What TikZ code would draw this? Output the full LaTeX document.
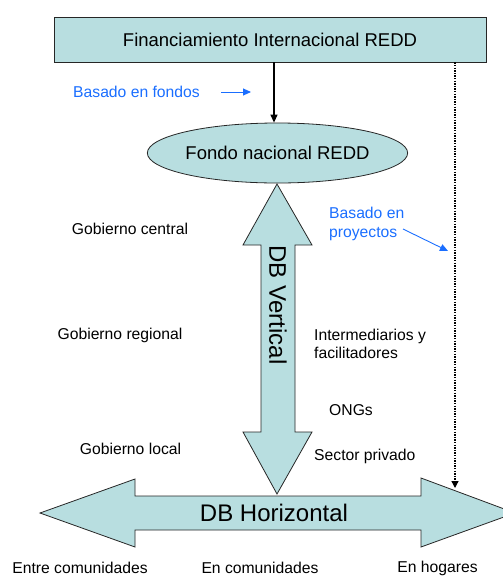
\documentclass[tikz,border=0pt]{standalone}
\usepackage{fontspec}
\setmainfont{Liberation Sans}
\usetikzlibrary{arrows.meta,shapes.geometric}
\definecolor{fillc}{RGB}{184,222,224}
\definecolor{bluet}{RGB}{26,110,255}
\begin{document}
\begin{tikzpicture}[x=1pt,y=-1pt,
  lbl/.style={font=\fontsize{15.7}{18.5}\selectfont, inner sep=0pt},
  bluelbl/.style={lbl, text=bluet},
  big/.style={font=\fontsize{24}{28}\selectfont, inner sep=0pt},
  mid/.style={font=\fontsize{18.5}{22}\selectfont},
  shapeline/.style={draw=black!85, line width=0.8pt, fill=fillc},
  blackarrow/.style={line width=1.2pt, -{Triangle[length=8pt,width=7pt]}},
  bluearrow/.style={draw=bluet, line width=0.9pt, -{Triangle[length=8pt,width=7pt]}},
  dotarrow/.style={line width=1.3pt, dash pattern=on 1.3pt off 1.3pt, -{Triangle[length=7pt,width=7pt]}}]
\useasboundingbox (0,0) rectangle (503,576);

% top box
\node[shapeline, mid, minimum width=432, minimum height=45, inner sep=0pt] (box) at (270,39.5) {Financiamiento Internacional REDD};
% ellipse
\node[shapeline, mid, ellipse, minimum width=249, minimum height=60, inner sep=0pt] (ell) at (277.5,153) {Fondo nacional REDD};

% main arrow
\coordinate (fa) at (274,0);
\draw[blackarrow] (box.south -| fa) -- (ell.north -| fa);

% dotted project line
\coordinate (dotend) at (455,488);
\draw[dotarrow] (box.south -| dotend) -- (dotend);

% horizontal double arrow
\draw[shapeline] (40,513) -- (135,479) -- (135,496) -- (421,496) -- (421,478) -- (515,513)
  -- (421,547) -- (421,530) -- (135,530) -- (135,547) -- cycle;
\node[big] (hor) at (274,513) {DB Horizontal};

% vertical double arrow
\draw[shapeline] (277,184) -- (312,245) -- (295,245) -- (295,432) -- (312,432) -- (277,494)
  -- (243,432) -- (261,432) -- (261,245) -- (243,245) -- cycle;
\node[big, rotate=-90] (ver) at (278,305) {DB Vertical};

% blue labels and arrows
\node[bluelbl, anchor=west] (fondos) at (73,92) {Basado en fondos};
\coordinate (fs) at (221,92);
\coordinate (fe) at (251,92);
\draw[bluearrow] (fs) -- (fe);

\node[bluelbl, anchor=west, align=left, font=\fontsize{15.7}{19}\selectfont] (proy) at (329,223.5) {Basado en\\proyectos};
\coordinate (ps) at (403,229);
\coordinate (pe) at (448,251);
\draw[bluearrow] (ps) -- (pe);

% left labels
\node[lbl] (gc) at (130,229) {Gobierno central};
\node[lbl] (gr) at (120,335) {Gobierno regional};
\node[lbl] (gl) at (130.5,449) {Gobierno local};

% right labels
\node[lbl, anchor=west, align=left, font=\fontsize{15.7}{18}\selectfont] (inter) at (314,344) {Intermediarios y\\facilitadores};
\node[lbl, anchor=west] (ong) at (329,410) {ONGs};
\node[lbl, anchor=west] (sec) at (314,456) {Sector privado};

% bottom labels
\node[lbl] (b1) at (80,568) {Entre comunidades};
\node[lbl] (b2) at (260,568) {En comunidades};
\node[lbl] (b3) at (437.5,568) {En hogares};
\end{tikzpicture}
\end{document}
